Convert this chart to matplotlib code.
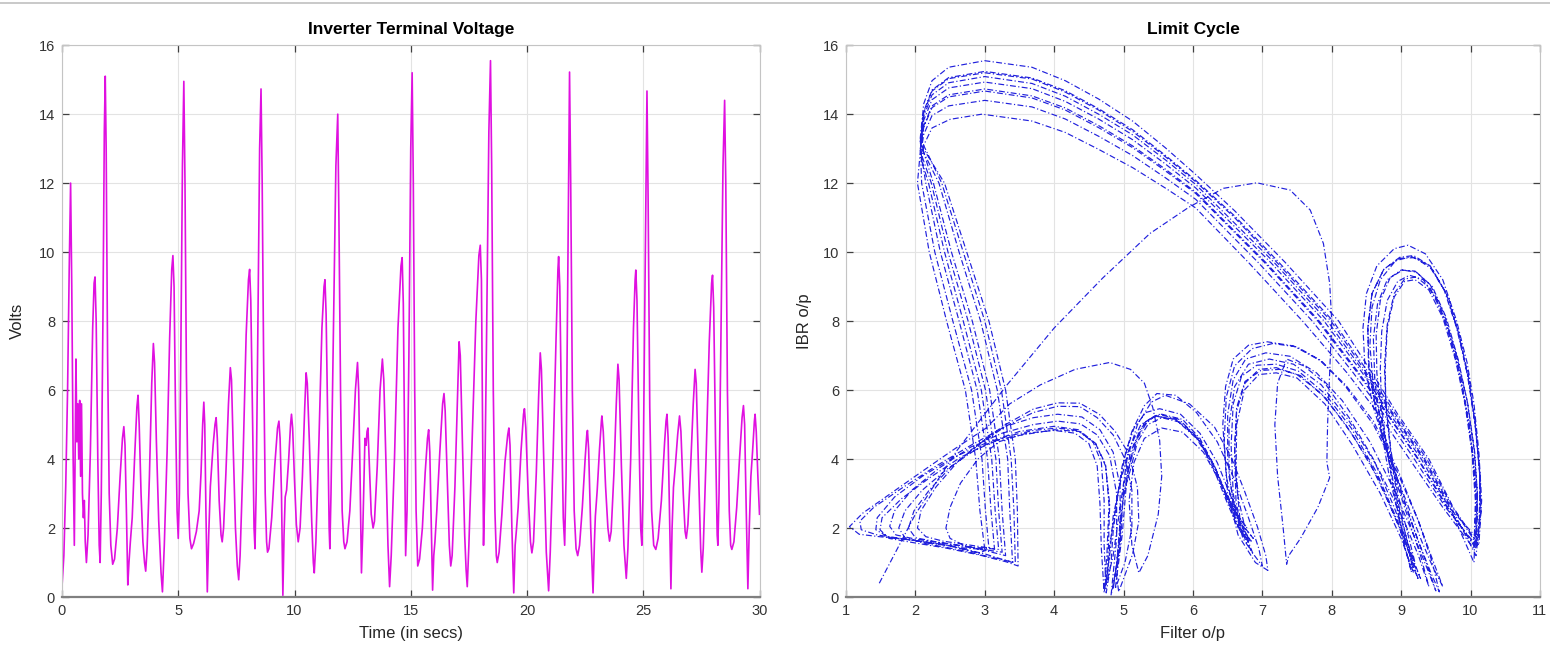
import matplotlib
matplotlib.use('Agg')
import matplotlib.pyplot as plt
from matplotlib.lines import Line2D

plt.rcParams['font.family'] = ['Liberation Sans', 'DejaVu Sans']

# ---- Inverter terminal voltage: (time in s, volts) ----
voltage_points = [
    (0.00, 0.3), (0.08, 1.2), (0.16, 3.2), (0.24, 6.0), (0.31, 9.5), (0.37, 12.0), (0.42, 9.0),
    (0.48, 4.0), (0.53, 1.5), (0.57, 4.5), (0.60, 6.9), (0.64, 4.5), (0.68, 5.6), (0.72, 4.0),
    (0.76, 5.7), (0.80, 3.5), (0.84, 5.6), (0.88, 3.0), (0.92, 2.3), (0.96, 2.8), (1.00, 1.6),
    (1.05, 1.0), (1.12, 1.8), (1.22, 4.2), (1.32, 7.8), (1.38, 9.1), (1.42, 9.28), (1.47, 8.0),
    (1.54, 4.0), (1.60, 1.5), (1.64, 1.0), (1.69, 3.0), (1.76, 8.0), (1.82, 13.5), (1.86, 15.1),
    (1.90, 13.0), (1.96, 7.0), (2.03, 3.0), (2.10, 1.5), (2.18, 0.95), (2.26, 1.1), (2.38, 2.0),
    (2.50, 3.5), (2.60, 4.6), (2.66, 4.94), (2.71, 4.4), (2.77, 2.5), (2.83, 0.35), (2.88, 1.0),
    (2.94, 1.6), (3.02, 2.3), (3.12, 4.0), (3.22, 5.5), (3.27, 5.85), (3.32, 5.0), (3.40, 3.0),
    (3.48, 1.6), (3.55, 1.0), (3.60, 0.75), (3.66, 1.4), (3.76, 3.5), (3.86, 6.2), (3.93, 7.35),
    (3.98, 6.8), (4.06, 4.5), (4.16, 2.2), (4.26, 0.7), (4.32, 0.15), (4.40, 1.5), (4.52, 4.2),
    (4.63, 7.5), (4.72, 9.5), (4.77, 9.9), (4.82, 9.0), (4.88, 5.5), (4.95, 2.5), (5.00, 1.7),
    (5.05, 3.0), (5.11, 7.0), (5.18, 12.5), (5.24, 14.95), (5.29, 12.0), (5.35, 6.5), (5.42, 3.0),
    (5.50, 1.7), (5.57, 1.4), (5.66, 1.55), (5.78, 1.9), (5.90, 2.5), (5.98, 3.6), (6.05, 5.0),
    (6.10, 5.65), (6.14, 5.0), (6.19, 2.5), (6.25, 0.15), (6.31, 1.8), (6.38, 3.2), (6.43, 3.7),
    (6.50, 4.4), (6.58, 5.0), (6.63, 5.2), (6.68, 4.6), (6.76, 2.8), (6.84, 1.8), (6.89, 1.6),
    (6.95, 2.0), (7.05, 3.6), (7.16, 5.6), (7.24, 6.65), (7.29, 6.3), (7.37, 4.2), (7.46, 2.0),
    (7.54, 0.9), (7.60, 0.5), (7.66, 1.2), (7.78, 3.8), (7.92, 7.6), (8.02, 9.2), (8.07, 9.5),
    (8.12, 8.6), (8.20, 5.0), (8.26, 2.0), (8.30, 1.4), (8.35, 3.0), (8.42, 7.5), (8.50, 13.0),
    (8.56, 14.73), (8.61, 12.0), (8.67, 7.0), (8.74, 3.0), (8.80, 1.6), (8.84, 1.3), (8.90, 1.4),
    (9.02, 2.3), (9.15, 3.8), (9.27, 4.9), (9.33, 5.1), (9.38, 4.6), (9.44, 3.0), (9.50, 0.05),
    (9.55, 1.8), (9.60, 2.9), (9.66, 3.1), (9.75, 4.0), (9.83, 5.0), (9.87, 5.3), (9.92, 4.9),
    (10.00, 3.4), (10.08, 2.1), (10.16, 1.6), (10.24, 2.0), (10.34, 3.5), (10.44, 5.5),
    (10.50, 6.5), (10.55, 6.2), (10.64, 4.5), (10.74, 2.2), (10.81, 1.0), (10.85, 0.7),
    (10.92, 1.6), (11.05, 4.5), (11.18, 7.8), (11.27, 9.0), (11.31, 9.2), (11.36, 8.2),
    (11.43, 5.0), (11.49, 2.0), (11.52, 1.4), (11.57, 3.0), (11.66, 7.0), (11.78, 12.5),
    (11.86, 14.0), (11.91, 11.0), (11.98, 6.0), (12.05, 2.5), (12.12, 1.6), (12.17, 1.4),
    (12.26, 1.6), (12.38, 2.5), (12.50, 4.2), (12.62, 6.0), (12.71, 6.8), (12.76, 6.0),
    (12.82, 3.5), (12.88, 0.7), (12.94, 2.0), (13.00, 3.8), (13.03, 4.6), (13.08, 4.4),
    (13.12, 4.8), (13.16, 4.9), (13.22, 3.8), (13.30, 2.4), (13.38, 2.0), (13.44, 2.2),
    (13.56, 3.8), (13.68, 6.0), (13.78, 6.9), (13.84, 6.3), (13.93, 4.0), (14.02, 1.5),
    (14.09, 0.3), (14.16, 1.2), (14.30, 4.0), (14.45, 7.8), (14.58, 9.6), (14.63, 9.84),
    (14.68, 8.5), (14.74, 4.0), (14.78, 1.2), (14.84, 2.5), (14.92, 7.0), (15.00, 13.0),
    (15.06, 15.2), (15.11, 12.0), (15.17, 6.0), (15.23, 2.5), (15.30, 0.9), (15.38, 1.1),
    (15.50, 2.0), (15.62, 3.6), (15.72, 4.6), (15.77, 4.85), (15.82, 4.2), (15.88, 2.2),
    (15.94, 0.2), (15.99, 1.2), (16.04, 1.6), (16.12, 2.5), (16.25, 4.2), (16.37, 5.6),
    (16.43, 5.9), (16.48, 5.4), (16.57, 3.4), (16.66, 1.5), (16.72, 0.9), (16.78, 1.2),
    (16.90, 3.2), (17.00, 5.5), (17.08, 7.4), (17.13, 7.0), (17.22, 4.5), (17.32, 1.8),
    (17.38, 0.8), (17.43, 0.3), (17.50, 1.5), (17.65, 4.8), (17.80, 8.0), (17.93, 9.9),
    (17.99, 10.2), (18.04, 9.2), (18.09, 5.0), (18.13, 1.5), (18.18, 3.0), (18.26, 7.5),
    (18.36, 13.5), (18.43, 15.55), (18.48, 12.5), (18.55, 6.0), (18.62, 2.5), (18.68, 1.2),
    (18.72, 1.0), (18.80, 1.3), (18.92, 2.4), (19.05, 3.9), (19.17, 4.7), (19.22, 4.9),
    (19.27, 4.4), (19.35, 2.0), (19.43, 0.12), (19.49, 1.5), (19.54, 1.9), (19.62, 2.6),
    (19.74, 4.2), (19.85, 5.3), (19.89, 5.46), (19.95, 4.9), (20.05, 3.0), (20.15, 1.6),
    (20.21, 1.28), (20.28, 1.6), (20.40, 3.6), (20.50, 5.8), (20.57, 7.08), (20.62, 6.6),
    (20.72, 4.0), (20.83, 1.3), (20.93, 0.18), (21.00, 1.3), (21.12, 4.0), (21.25, 7.5),
    (21.33, 9.5), (21.36, 9.87), (21.41, 9.0), (21.48, 5.5), (21.56, 2.3), (21.62, 1.5),
    (21.68, 3.5), (21.75, 9.0), (21.83, 15.22), (21.88, 12.0), (21.95, 6.0), (22.03, 2.5),
    (22.11, 1.4), (22.18, 1.2), (22.26, 1.5), (22.38, 2.6), (22.50, 4.0), (22.57, 4.7),
    (22.60, 4.83), (22.65, 4.3), (22.74, 2.0), (22.84, 0.12), (22.90, 1.6), (22.94, 2.34),
    (23.02, 3.1), (23.12, 4.3), (23.20, 5.1), (23.22, 5.25), (23.28, 4.8), (23.38, 3.2),
    (23.48, 2.0), (23.55, 1.62), (23.62, 1.9), (23.74, 3.6), (23.84, 5.6), (23.91, 6.75),
    (23.96, 6.3), (24.06, 3.8), (24.17, 1.5), (24.27, 0.54), (24.34, 1.4), (24.46, 4.0),
    (24.58, 7.8), (24.65, 9.2), (24.68, 9.48), (24.73, 8.6), (24.81, 5.0), (24.89, 2.0),
    (24.94, 1.5), (24.99, 3.0), (25.06, 8.0), (25.16, 14.67), (25.21, 11.5), (25.28, 5.5),
    (25.36, 2.5), (25.45, 1.5), (25.54, 1.38), (25.64, 1.7), (25.78, 2.8), (25.92, 4.5),
    (25.98, 5.1), (26.02, 5.3), (26.07, 4.6), (26.13, 2.5), (26.19, 0.24), (26.24, 2.0),
    (26.30, 3.18), (26.38, 3.8), (26.48, 4.7), (26.56, 5.25), (26.62, 4.8), (26.72, 3.0),
    (26.80, 1.9), (26.85, 1.7), (26.92, 2.1), (27.04, 3.8), (27.15, 5.6), (27.23, 6.6),
    (27.28, 6.2), (27.38, 3.6), (27.47, 1.4), (27.52, 0.72), (27.58, 1.4), (27.70, 4.0),
    (27.84, 7.4), (27.94, 9.1), (27.98, 9.33), (28.03, 8.4), (28.11, 4.5), (28.18, 1.8),
    (28.21, 1.5), (28.26, 3.0), (28.34, 7.5), (28.43, 12.5), (28.50, 14.4), (28.55, 12.0),
    (28.62, 6.0), (28.70, 2.5), (28.76, 1.5), (28.81, 1.38), (28.90, 1.6), (29.02, 2.6),
    (29.14, 4.0), (29.25, 5.2), (29.31, 5.55), (29.36, 5.0), (29.43, 2.5), (29.50, 0.24),
    (29.56, 2.0), (29.63, 3.5), (29.70, 4.2), (29.78, 5.1), (29.81, 5.3), (29.86, 4.8),
    (29.93, 3.5), (30.00, 2.4)]

# ---- Limit cycle (filter o/p, IBR o/p), traced pass by pass ----
transient = [(1.48, 0.4), (2.0, 2.4), (2.6, 4.25), (3.3, 6.1), (4.0, 7.8), (4.7, 9.25),
             (5.38, 10.54), (5.94, 11.3), (6.44, 11.85), (6.92, 12.01), (7.4, 11.8),
             (7.69, 11.22), (7.88, 10.25), (7.97, 9.1), (8.0, 8.0), (7.97, 6.5), (7.94, 5.0),
             (7.93, 3.9), (7.97, 3.46), (7.8, 2.6), (7.55, 1.7), (7.38, 1.2), (7.35, 0.95),
             (7.3, 2.0), (7.22, 3.5), (7.18, 5.0), (7.22, 6.2), (7.35, 6.9), (7.6, 6.7),
             (7.9, 6.2), (8.25, 5.2), (8.6, 4.0), (8.9, 2.6), (9.1, 1.5), (9.2, 1.0),
             (9.1, 1.8), (8.95, 3.0), (8.85, 4.3), (8.78, 5.6), (8.76, 6.7), (8.8, 7.9),
             (8.9, 8.8), (9.05, 9.22), (9.22, 9.28), (9.42, 8.95), (9.62, 8.1), (9.8, 6.9),
             (9.93, 5.6), (10.03, 4.2), (10.08, 2.8), (10.05, 1.0)]

cycle_1 = [(10.05, 1.0), (9.7, 2.6), (9.32, 4.0), (8.87, 5.3), (8.47, 6.5), (7.94, 8.0),
           (7.17, 9.7), (6.04, 11.96), (5.6, 12.68), (5.13, 13.4), (4.64, 14.0), (4.16, 14.52),
           (3.68, 14.89), (3.0, 15.09), (2.48, 14.91), (2.24, 14.56), (2.12, 13.94), (2.07, 13.09),
           (2.34, 12.0), (2.63, 10.0), (2.94, 8.0), (3.18, 6.0), (3.33, 4.0), (3.36, 2.5), (3.4, 1.0),
           (3.0, 1.25), (2.5, 1.48), (2.0, 1.63), (1.6, 1.75), (1.43, 1.95), (1.45, 2.3), (1.7, 2.9),
           (2.1, 3.5), (2.55, 4.05), (3.0, 4.45),
           (3.5, 4.8), (4.0, 4.95), (4.35, 4.85), (4.6, 4.45), (4.74, 3.8), (4.8, 2.7), (4.78, 1.3),
           (4.75, 0.35),
           (4.85, 1.2), (4.95, 2.6), (5.05, 4.0), (5.2, 5.0), (5.4, 5.65), (5.6, 5.85), (5.95, 5.6),
           (6.31, 4.93), (6.55, 4.06), (6.74, 3.09), (6.93, 2.03), (7.05, 1.2), (7.08, 0.77),
           (6.9, 1.0), (6.65, 1.8), (6.5, 3.0), (6.45, 4.5), (6.48, 5.8), (6.6, 6.7), (6.85, 7.2),
           (7.15, 7.35), (7.5, 7.25), (7.85, 6.85), (8.2, 6.1), (8.6, 5.0), (8.95, 3.6), (9.25, 2.2),
           (9.45, 1.0), (9.55, 0.15),
           (9.45, 0.6), (9.25, 1.6), (9.0, 3.0), (8.8, 4.3), (8.62, 5.6), (8.53, 6.7), (8.52, 7.8),
           (8.58, 8.8), (8.75, 9.5), (8.98, 9.85), (9.18, 9.9), (9.42, 9.6), (9.65, 8.8), (9.82, 7.7),
           (9.97, 6.4), (10.07, 5.0), (10.13, 3.6), (10.14, 2.5), (10.1, 1.7)]

cycle_2 = [(10.1, 1.7), (9.69, 2.6), (9.29, 4.0), (8.84, 5.3), (8.44, 6.5), (7.89, 8.0),
           (7.12, 9.7), (6.04, 11.86), (5.6, 12.56), (5.13, 13.26), (4.64, 13.86), (4.16, 14.37),
           (3.68, 14.74), (3.0, 14.93), (2.48, 14.76), (2.24, 14.42), (2.12, 13.82), (2.07, 13.02),
           (2.15, 12.0), (2.36, 10.0), (2.63, 8.0), (2.89, 6.0), (3.04, 4.0), (3.09, 2.5), (3.14, 1.4),
           (2.8, 1.5), (2.4, 1.62), (2.15, 1.75), (2.03, 2.0), (2.08, 2.5), (2.3, 3.2), (2.6, 3.9),
           (2.95, 4.5), (3.3, 5.0),
           (3.7, 5.45), (4.05, 5.63), (4.37, 5.62), (4.65, 5.3), (4.88, 4.8), (5.08, 4.14), (5.2, 3.17),
           (5.22, 2.2), (5.13, 1.24), (4.93, 0.15),
           (4.9, 0.6), (4.95, 1.8), (5.0, 3.0), (5.1, 3.7), (5.2, 4.5), (5.35, 5.0), (5.55, 5.2),
           (5.85, 5.05), (6.1, 4.5), (6.3, 3.7), (6.5, 2.7), (6.65, 2.0), (6.8, 1.6),
           (6.7, 1.9), (6.62, 2.8), (6.6, 4.2), (6.63, 5.4), (6.75, 6.2), (6.95, 6.6), (7.2, 6.65),
           (7.5, 6.45), (7.85, 5.9), (8.2, 5.0), (8.55, 3.9), (8.85, 2.6), (9.1, 1.4), (9.25, 0.5),
           (9.15, 1.0), (8.98, 2.2), (8.82, 3.6), (8.7, 5.0), (8.62, 6.3), (8.6, 7.5), (8.66, 8.5),
           (8.8, 9.2), (9.0, 9.48), (9.2, 9.45), (9.42, 9.05), (9.62, 8.2), (9.8, 7.0), (9.95, 5.7),
           (10.05, 4.3), (10.1, 3.0), (10.08, 1.4)]

cycle_3 = [(10.08, 1.4), (9.67, 2.6), (9.25, 4.0), (8.81, 5.3), (8.39, 6.5), (7.82, 8.0),
           (7.05, 9.7), (6.04, 11.74), (5.6, 12.41), (5.13, 13.08), (4.64, 13.67), (4.16, 14.18),
           (3.68, 14.53), (3.0, 14.73), (2.48, 14.56), (2.24, 14.24), (2.12, 13.66), (2.07, 12.93),
           (2.23, 12.0), (2.47, 10.0), (2.76, 8.0), (3.01, 6.0), (3.16, 4.0), (3.2, 2.5), (3.25, 1.3),
           (2.9, 1.4), (2.45, 1.55), (2.0, 1.68), (1.72, 1.8), (1.63, 2.05), (1.7, 2.5), (1.95, 3.1),
           (2.35, 3.75), (2.8, 4.35), (3.25, 4.75),
           (3.7, 5.0), (4.05, 5.1), (4.38, 5.02), (4.62, 4.7), (4.8, 4.1), (4.9, 3.0), (4.9, 1.7),
           (4.82, 0.05),
           (4.9, 0.9), (4.95, 2.2), (5.0, 2.9), (5.08, 3.8), (5.2, 4.6), (5.36, 5.15), (5.55, 5.3),
           (5.85, 5.15), (6.1, 4.6), (6.32, 3.75), (6.5, 2.8), (6.66, 2.0), (6.82, 1.6),
           (6.8, 1.7), (6.68, 2.2), (6.62, 3.5), (6.63, 5.0), (6.74, 6.0), (6.95, 6.45), (7.2, 6.5),
           (7.5, 6.35), (7.9, 5.6), (8.3, 4.4), (8.7, 3.0), (9.0, 1.7), (9.18, 0.7),
           (9.1, 1.5), (8.95, 2.8), (8.85, 4.2), (8.78, 5.5), (8.77, 6.6), (8.8, 7.8), (8.9, 8.7),
           (9.05, 9.15), (9.2, 9.2), (9.4, 8.9), (9.6, 8.1), (9.78, 6.9), (9.92, 5.6), (10.02, 4.2),
           (10.07, 2.8), (10.05, 1.4)]

cycle_4 = [(10.05, 1.4), (9.6, 2.6), (9.12, 4.0), (8.68, 5.3), (8.22, 6.5), (7.58, 8.0),
           (6.8, 9.7), (6.04, 11.28), (5.6, 11.86), (5.13, 12.45), (4.64, 12.98), (4.16, 13.47),
           (3.68, 13.8), (2.96, 14.0), (2.5, 13.85), (2.24, 13.6), (2.12, 13.1), (2.08, 12.6),
           (2.09, 12.0), (2.28, 10.0), (2.54, 8.0), (2.81, 6.0), (2.96, 4.0), (3.01, 2.5), (3.06, 1.4),
           (2.92, 1.27), (2.44, 1.51), (1.96, 1.65), (1.48, 1.75), (1.19, 1.82), (1.05, 2.04),
           (1.24, 2.43), (1.58, 2.91), (2.06, 3.59), (2.54, 4.26), (3.02, 4.9), (3.36, 5.6),
           (3.8, 6.15), (4.3, 6.6), (4.8, 6.8), (5.1, 6.6), (5.3, 6.2), (5.42, 5.5), (5.52, 4.54),
           (5.55, 3.5), (5.5, 2.4), (5.35, 1.2), (5.22, 0.7),
           (5.12, 1.5), (5.08, 2.8), (5.15, 3.9), (5.3, 4.6), (5.55, 4.9), (5.85, 4.78), (6.15, 4.2),
           (6.4, 3.3), (6.6, 2.5), (6.78, 2.0),
           (6.62, 2.4), (6.52, 3.5), (6.52, 5.0), (6.6, 6.1), (6.8, 6.75), (7.1, 6.9), (7.45, 6.75),
           (7.85, 6.15), (8.25, 5.1), (8.65, 3.8), (9.0, 2.4), (9.25, 1.2), (9.4, 0.3),
           (9.28, 1.2), (9.05, 2.6), (8.82, 4.0), (8.64, 5.4), (8.54, 6.6), (8.52, 7.8), (8.58, 8.8),
           (8.75, 9.5), (8.98, 9.82), (9.2, 9.84), (9.45, 9.5), (9.68, 8.7), (9.85, 7.5), (9.98, 6.2),
           (10.08, 4.8), (10.14, 3.4), (10.12, 2.0), (10.08, 1.2)]

cycle_5 = [(10.08, 1.2), (9.72, 2.6), (9.34, 4.0), (8.89, 5.3), (8.5, 6.5), (7.99, 8.0),
           (7.21, 9.7), (6.6, 11.0), (6.04, 12.04), (5.6, 12.77), (5.13, 13.5), (4.64, 14.12),
           (4.16, 14.64), (3.68, 15.02), (3.0, 15.2), (2.48, 15.03), (2.24, 14.67), (2.12, 14.04),
           (2.07, 13.15),
           (2.42, 12.0), (2.74, 10.0), (3.06, 8.0), (3.3, 6.0), (3.44, 4.0), (3.47, 2.5), (3.48, 0.9),
           (3.31, 1.02), (2.92, 1.22), (2.44, 1.42), (1.96, 1.58), (1.62, 1.7), (1.49, 1.95),
           (1.52, 2.3), (1.8, 2.85), (2.2, 3.45), (2.65, 4.05), (3.1, 4.5),
           (3.39, 4.65), (4.0, 4.85), (4.36, 4.8), (4.6, 4.43), (4.74, 3.85), (4.79, 2.69),
           (4.76, 1.24), (4.72, 0.2),
           (4.78, 0.8), (4.8, 1.5), (4.88, 2.5), (4.98, 3.8), (5.12, 4.8), (5.3, 5.55), (5.48, 5.9),
           (5.75, 5.85), (6.05, 5.35), (6.35, 4.5), (6.6, 3.4), (6.8, 2.3), (6.95, 1.4), (7.0, 0.9),
           (6.85, 1.3), (6.62, 2.2), (6.48, 3.5), (6.43, 5.0), (6.47, 6.1), (6.58, 6.9), (6.8, 7.3),
           (7.07, 7.4), (7.45, 7.28), (7.83, 6.86), (8.2, 6.15), (8.6, 5.1), (8.95, 3.7), (9.25, 2.2),
           (9.45, 1.1), (9.6, 0.3),
           (9.45, 0.9), (9.3, 1.6), (9.05, 2.9), (8.8, 4.2), (8.6, 5.5), (8.48, 6.6), (8.45, 7.8),
           (8.5, 8.8), (8.65, 9.6), (8.9, 10.1), (9.1, 10.2), (9.35, 9.95), (9.6, 9.2), (9.8, 8.0),
           (9.95, 6.8), (10.05, 5.6), (10.12, 4.2), (10.16, 2.8), (10.12, 1.5)]

cycle_6 = [(10.12, 1.5), (9.75, 2.6), (9.4, 4.0), (8.95, 5.3), (8.58, 6.5), (8.1, 8.0),
           (7.33, 9.7), (6.6, 11.2), (6.04, 12.25), (5.6, 13.03), (5.13, 13.8), (4.64, 14.44),
           (4.16, 14.97), (3.68, 15.36), (3.0, 15.55), (2.48, 15.36), (2.24, 14.97), (2.12, 14.3),
           (2.07, 13.3),
           (2.38, 12.0), (2.69, 10.0), (3.0, 8.0), (3.24, 6.0), (3.38, 4.0), (3.42, 2.5), (3.44, 1.0),
           (3.1, 1.15), (2.6, 1.38), (2.15, 1.55), (1.85, 1.72), (1.76, 2.0), (1.85, 2.5), (2.1, 3.1),
           (2.45, 3.7), (2.85, 4.25), (3.3, 4.65),
           (3.7, 4.83), (4.05, 4.9), (4.35, 4.82), (4.56, 4.5), (4.68, 3.9), (4.72, 2.8), (4.72, 1.5),
           (4.75, 0.12),
           (4.82, 1.0), (4.85, 1.9), (4.92, 3.0), (5.02, 4.1), (5.15, 4.9), (5.32, 5.35), (5.52, 5.46),
           (5.82, 5.3), (6.1, 4.75), (6.35, 3.9), (6.55, 2.9), (6.72, 2.0), (6.86, 1.28),
           (6.72, 1.7), (6.58, 2.7), (6.5, 4.0), (6.5, 5.3), (6.58, 6.3), (6.76, 6.9), (7.05, 7.08),
           (7.4, 6.98), (7.78, 6.5), (8.15, 5.7), (8.55, 4.5), (8.9, 3.1), (9.2, 1.7), (9.4, 0.7),
           (9.5, 0.18),
           (9.38, 0.9), (9.18, 2.0), (8.95, 3.4), (8.75, 4.8), (8.6, 6.1), (8.55, 7.3), (8.58, 8.4),
           (8.7, 9.2), (8.92, 9.75), (9.15, 9.87), (9.4, 9.62), (9.62, 8.9), (9.8, 7.8), (9.95, 6.5),
           (10.06, 5.1), (10.13, 3.7), (10.15, 2.5), (10.1, 1.5)]

cycle_7 = [(10.1, 1.5), (9.74, 2.6), (9.37, 4.0), (8.92, 5.3), (8.53, 6.5), (8.02, 8.0),
           (7.24, 9.7), (6.6, 11.05), (6.04, 12.08), (5.6, 12.81), (5.13, 13.55), (4.64, 14.16),
           (4.16, 14.68), (3.68, 15.05), (3.0, 15.24), (2.48, 15.06), (2.24, 14.7), (2.12, 14.08),
           (2.07, 13.2),
           (2.26, 12.0), (2.52, 10.0), (2.82, 8.0), (3.07, 6.0), (3.21, 4.0), (3.25, 2.5), (3.3, 1.2),
           (3.0, 1.35), (2.7, 1.5), (2.5, 1.7), (2.44, 2.0), (2.5, 2.6), (2.65, 3.3), (2.9, 4.0),
           (3.2, 4.5),
           (3.6, 4.75), (4.0, 4.83), (4.3, 4.75), (4.5, 4.45), (4.62, 3.8), (4.66, 2.7), (4.68, 1.4),
           (4.72, 0.12),
           (4.8, 1.2), (4.85, 2.34), (4.95, 3.3), (5.08, 4.3), (5.25, 5.0), (5.45, 5.25), (5.75, 5.15),
           (6.05, 4.65), (6.3, 3.85), (6.5, 2.9), (6.68, 2.1), (6.84, 1.62),
           (6.68, 2.0), (6.58, 3.0), (6.55, 4.4), (6.58, 5.6), (6.7, 6.4), (6.92, 6.72), (7.2, 6.75),
           (7.52, 6.55), (7.9, 5.9), (8.28, 4.9), (8.65, 3.6), (8.95, 2.2), (9.15, 1.1), (9.28, 0.54),
           (9.15, 1.2), (8.98, 2.4), (8.84, 3.8), (8.72, 5.2), (8.65, 6.5), (8.64, 7.6), (8.7, 8.6),
           (8.84, 9.25), (9.02, 9.48), (9.22, 9.42), (9.45, 9.0), (9.65, 8.1), (9.82, 6.9),
           (9.96, 5.6), (10.06, 4.2), (10.1, 2.9), (10.06, 1.5)]

cycle_8 = [(10.06, 1.5), (9.66, 2.6), (9.24, 4.0), (8.8, 5.3), (8.37, 6.5), (7.8, 8.0),
           (7.03, 9.7), (6.04, 11.7), (5.6, 12.36), (5.13, 13.03), (4.64, 13.61), (4.16, 14.12),
           (3.68, 14.47), (3.0, 14.67), (2.48, 14.5), (2.24, 14.19), (2.12, 13.62), (2.07, 12.9),
           (2.03, 12.0), (2.2, 10.0), (2.45, 8.0), (2.72, 6.0), (2.87, 4.0), (2.93, 2.5), (3.0, 1.38),
           (2.7, 1.42), (2.3, 1.55), (1.85, 1.68), (1.45, 1.8), (1.22, 1.95), (1.2, 2.2), (1.4, 2.6),
           (1.8, 3.15), (2.3, 3.8), (2.8, 4.4), (3.3, 4.95),
           (3.7, 5.2), (4.05, 5.3), (4.4, 5.22), (4.66, 4.85), (4.85, 4.2), (4.95, 3.2), (4.95, 1.8),
           (4.85, 0.24),
           (4.95, 1.5), (5.0, 3.18), (5.1, 4.2), (5.25, 4.9), (5.45, 5.25), (5.75, 5.15), (6.05, 4.6),
           (6.3, 3.8), (6.52, 2.8), (6.7, 2.1), (6.87, 1.7),
           (6.75, 2.0), (6.65, 2.9), (6.6, 4.3), (6.63, 5.5), (6.75, 6.25), (6.98, 6.57), (7.25, 6.6),
           (7.55, 6.42), (7.92, 5.75), (8.3, 4.7), (8.68, 3.4), (8.98, 2.0), (9.15, 0.72),
           (9.05, 1.5), (8.92, 2.8), (8.8, 4.2), (8.72, 5.5), (8.7, 6.6), (8.72, 7.7), (8.8, 8.6),
           (8.95, 9.15), (9.12, 9.33), (9.32, 9.2), (9.52, 8.6), (9.7, 7.6), (9.86, 6.3), (9.98, 5.0),
           (10.06, 3.6), (10.1, 2.4), (10.08, 1.5)]

cycle_9 = [(10.08, 1.5), (9.64, 2.6), (9.19, 4.0), (8.75, 5.3), (8.31, 6.5), (7.72, 8.0),
           (6.94, 9.7), (6.04, 11.53), (5.6, 12.16), (5.13, 12.8), (4.64, 13.36), (4.16, 13.86),
           (3.68, 14.21), (3.0, 14.4), (2.48, 14.24), (2.24, 13.96), (2.12, 13.41), (2.07, 12.78),
           (2.19, 12.0), (2.42, 10.0), (2.69, 8.0), (2.95, 6.0), (3.1, 4.0), (3.15, 2.5), (3.2, 1.38),
           (2.8, 1.45), (2.35, 1.58), (2.0, 1.72), (1.9, 2.0), (1.98, 2.5), (2.2, 3.1), (2.5, 3.75),
           (2.9, 4.4), (3.3, 4.95),
           (3.7, 5.35), (4.05, 5.53), (4.37, 5.52), (4.62, 5.2), (4.85, 4.7), (5.02, 4.0), (5.12, 3.1),
           (5.12, 2.0), (5.02, 1.0), (4.88, 0.24),
           (4.98, 1.8), (5.05, 3.5), (5.15, 4.4), (5.3, 5.05), (5.5, 5.3), (5.8, 5.15), (6.08, 4.6),
           (6.3, 3.8), (6.5, 2.8), (6.6, 2.4)]

passes = [transient, cycle_1, cycle_2, cycle_3, cycle_4, cycle_5, cycle_6, cycle_7, cycle_8, cycle_9]

fig = plt.figure(figsize=(15.5, 6.5), dpi=100)
ax1 = fig.add_axes([0.040, 0.0815, 0.450, 0.849])
ax2 = fig.add_axes([0.5458, 0.0815, 0.4477, 0.849])

# thin border line across the top of the image
fig.add_artist(Line2D([0, 1], [0.996, 0.996], color='#c0c0c0', lw=1.2))

time_s = [p[0] for p in voltage_points]
volts = [p[1] for p in voltage_points]
ax1.plot(time_s, volts, color='#e010e0', lw=1.2)

filt = []
ibr = []
for p in passes:
    for x, y in p:
        filt.append(x)
        ibr.append(y)
ax2.plot(filt, ibr, color='#2020dc', lw=0.85, linestyle=(0, (5, 2, 1, 2)))


def style(ax):
    ax.grid(True, color='#e3e3e3', lw=0.8)
    ax.set_axisbelow(True)
    for s in ['top', 'left', 'right']:
        ax.spines[s].set_color('#c4c4c4')
        ax.spines[s].set_linewidth(0.8)
    ax.spines['bottom'].set_color('#808080')
    ax.spines['bottom'].set_linewidth(1.6)
    ax.tick_params(direction='in', top=True, right=True, length=5, width=0.9,
                   color='#404040', labelsize=10.5, labelcolor='#333333', pad=5)


ax1.set_xlim(0, 30)
ax1.set_ylim(0, 16)
ax1.set_xticks(range(0, 31, 5))
ax1.set_yticks(range(0, 17, 2))
style(ax1)
ax1.set_title('Inverter Terminal Voltage', fontsize=12.5, fontweight='bold', pad=8)
ax1.set_xlabel('Time (in secs)', fontsize=12, color='#262626', labelpad=6)
ax1.set_ylabel('Volts', fontsize=12, color='#262626', labelpad=10)

ax2.set_xlim(1, 11)
ax2.set_ylim(0, 16)
ax2.set_xticks(range(1, 12))
ax2.set_yticks(range(0, 17, 2))
style(ax2)
ax2.set_title('Limit Cycle', fontsize=12.5, fontweight='bold', pad=8)
ax2.set_xlabel('Filter o/p', fontsize=12, color='#262626', labelpad=6)
ax2.set_ylabel('IBR o/p', fontsize=12, color='#262626', labelpad=8)

fig.savefig('out.png', dpi=100)
